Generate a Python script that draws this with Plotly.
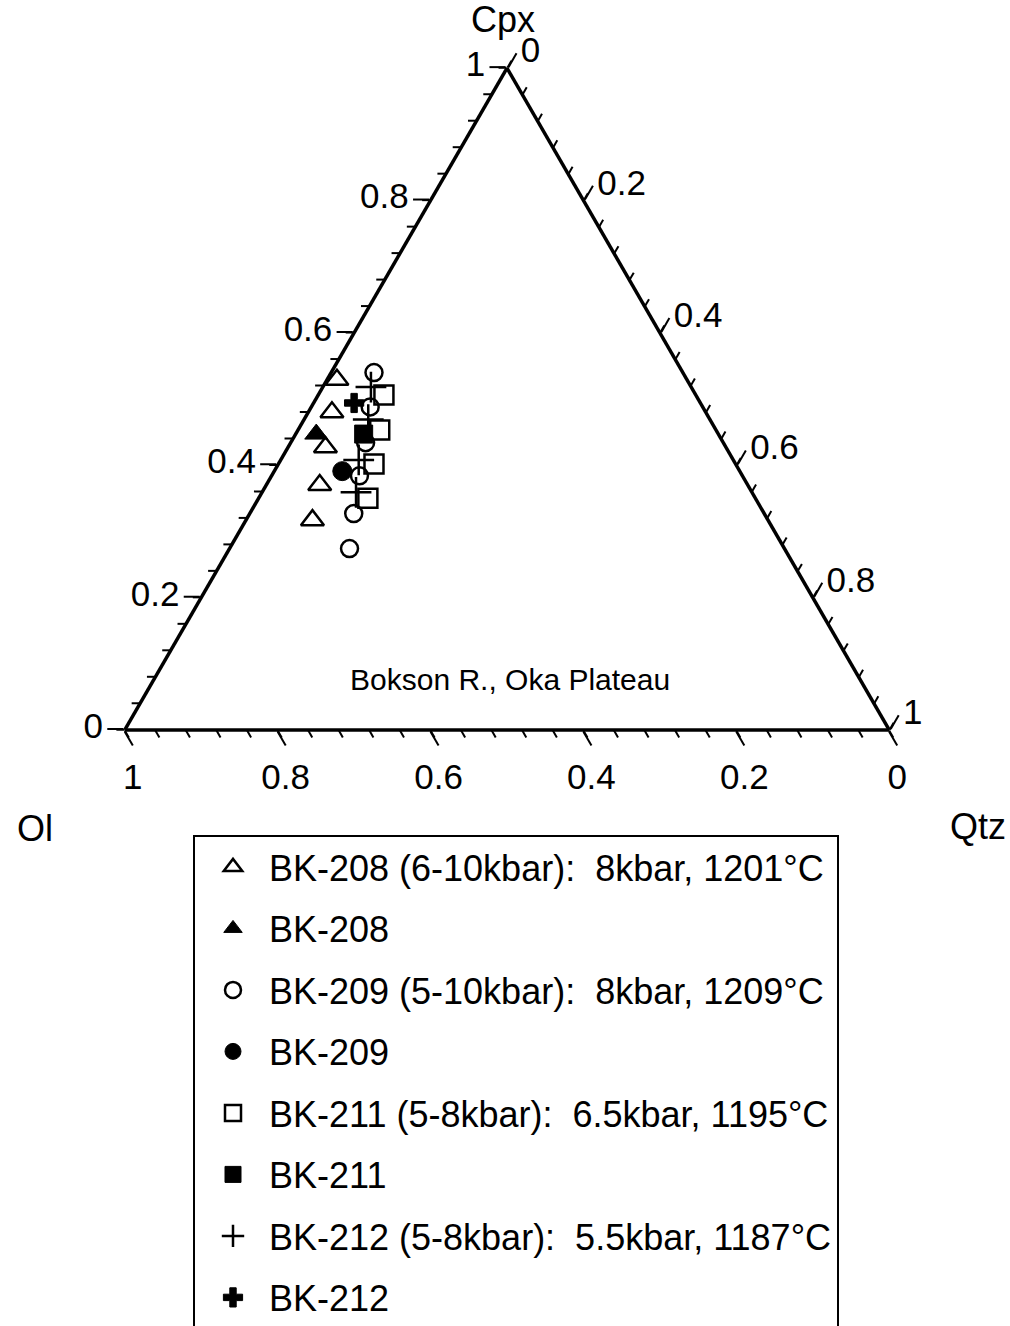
import plotly.graph_objects as go

# Ternary compositions (Cpx, Ol, Qtz) for each sample
bk208_calc_cpx = [0.529, 0.480, 0.427, 0.370, 0.317]
bk208_calc_ol = [0.458, 0.489, 0.524, 0.560, 0.596]
bk208_calc_qtz = [0.013, 0.031, 0.049, 0.070, 0.087]

bk208_cpx = [0.447]
bk208_ol = [0.526]
bk208_qtz = [0.027]

bk209_calc_cpx = [0.540, 0.488, 0.434, 0.384, 0.327, 0.274]
bk209_calc_ol = [0.404, 0.435, 0.468, 0.501, 0.537, 0.569]
bk209_calc_qtz = [0.056, 0.077, 0.098, 0.115, 0.136, 0.157]

bk209_cpx = [0.391]
bk209_ol = [0.520]
bk209_qtz = [0.089]

bk211_calc_cpx = [0.506, 0.453, 0.402, 0.350]
bk211_calc_ol = [0.408, 0.440, 0.473, 0.507]
bk211_calc_qtz = [0.086, 0.107, 0.125, 0.143]

bk211_cpx = [0.447]
bk211_ol = [0.464]
bk211_qtz = [0.089]

bk212_calc_cpx = [0.518, 0.469, 0.408, 0.359]
bk212_calc_ol = [0.419, 0.447, 0.490, 0.518]
bk212_calc_qtz = [0.063, 0.084, 0.102, 0.123]

bk212_cpx = [0.494]
bk212_ol = [0.453]
bk212_qtz = [0.053]

legend_names = [
    "BK-208 (6-10kbar):\u00a0\u00a08kbar, 1201°C",
    "BK-208",
    "BK-209 (5-10kbar):\u00a0\u00a08kbar, 1209°C",
    "BK-209",
    "BK-211 (5-8kbar):\u00a0\u00a06.5kbar, 1195°C",
    "BK-211",
    "BK-212 (5-8kbar):\u00a0\u00a05.5kbar, 1187°C",
    "BK-212",
]

major_ticks = [0, 0.2, 0.4, 0.6, 0.8, 1.0]
minor_ticks = [round(i * 0.04, 2) for i in range(26)]

FONT = "Liberation Sans, Arial, Helvetica, sans-serif"

series = [
    (bk208_calc_cpx, bk208_calc_ol, bk208_calc_qtz, "triangle-up-open", 20, 2.5),
    (bk208_cpx, bk208_ol, bk208_qtz, "triangle-up", 20, 1),
    (bk209_calc_cpx, bk209_calc_ol, bk209_calc_qtz, "circle-open", 17, 2.5),
    (bk209_cpx, bk209_ol, bk209_qtz, "circle", 19, 1),
    (bk211_calc_cpx, bk211_calc_ol, bk211_calc_qtz, "square-open", 19, 2.5),
    (bk211_cpx, bk211_ol, bk211_qtz, "square", 18, 1),
    (bk212_calc_cpx, bk212_calc_ol, bk212_calc_qtz, "cross-thin-open", 22, 2.5),
    (bk212_cpx, bk212_ol, bk212_qtz, "cross", 16, 1),
]

fig = go.Figure()
for i, (a, b, c, sym, size, lw) in enumerate(series):
    fig.add_trace(go.Scatterternary(
        a=a, b=b, c=c,
        mode="markers",
        name=legend_names[i],
        legendgroup=f"g{i}",
        subplot="ternary",
        marker=dict(symbol=sym, size=size, color="black",
                    line=dict(color="black", width=lw)),
    ))

# empty trace that anchors the minor-tick overlay
fig.add_trace(go.Scatterternary(a=[], b=[], c=[], subplot="ternary2",
                                showlegend=False, hoverinfo="skip"))

domain = dict(x=[124.8 / 1010, 889.2 / 1010], y=[1 - 730 / 1326, 1 - 68 / 1326])


def major_axis():
    return dict(
        tickmode="array", tickvals=major_ticks, ticks="outside", ticklen=16,
        tickwidth=2, tickcolor="black", showgrid=False, showline=True,
        linecolor="black", linewidth=3.5, min=0,
        tickfont=dict(family=FONT, size=35, color="black"),
        title=dict(text=""),
    )


def minor_axis():
    return dict(
        tickmode="array", tickvals=minor_ticks, ticks="outside", ticklen=8,
        tickwidth=1.5, tickcolor="black", showgrid=False, showline=False,
        showticklabels=False, min=0, title=dict(text=""),
    )


def label(text, px, py, size=36):
    return dict(text=text, x=px / 1010, y=1 - py / 1326, xref="paper", yref="paper",
                xanchor="center", yanchor="middle", showarrow=False,
                font=dict(size=size))


fig.update_layout(
    width=1010, height=1326,
    margin=dict(l=0, r=0, t=0, b=0, autoexpand=False),
    paper_bgcolor="white",
    ternary=dict(domain=domain, sum=1, bgcolor="rgba(0,0,0,0)",
                 aaxis=major_axis(), baxis=major_axis(), caxis=major_axis()),
    ternary2=dict(domain=domain, sum=1, bgcolor="rgba(0,0,0,0)",
                  aaxis=minor_axis(), baxis=minor_axis(), caxis=minor_axis()),
    font=dict(family=FONT, color="black"),
    showlegend=True,
    legend=dict(
        x=193 / 1010, y=1 - 835 / 1326, xanchor="left", yanchor="top",
        bordercolor="black", borderwidth=2, bgcolor="white",
        font=dict(family=FONT, size=36, color="black"),
        tracegroupgap=11.7, itemsizing="trace", indentation=2, itemwidth=62,
    ),
    annotations=[
        label("Cpx", 503, 20),
        label("Ol", 35, 828),
        label("Qtz", 978, 826),
        label("Bokson R., Oka Plateau", 510, 679, size=30),
    ],
)

fig.write_html("out.html")
